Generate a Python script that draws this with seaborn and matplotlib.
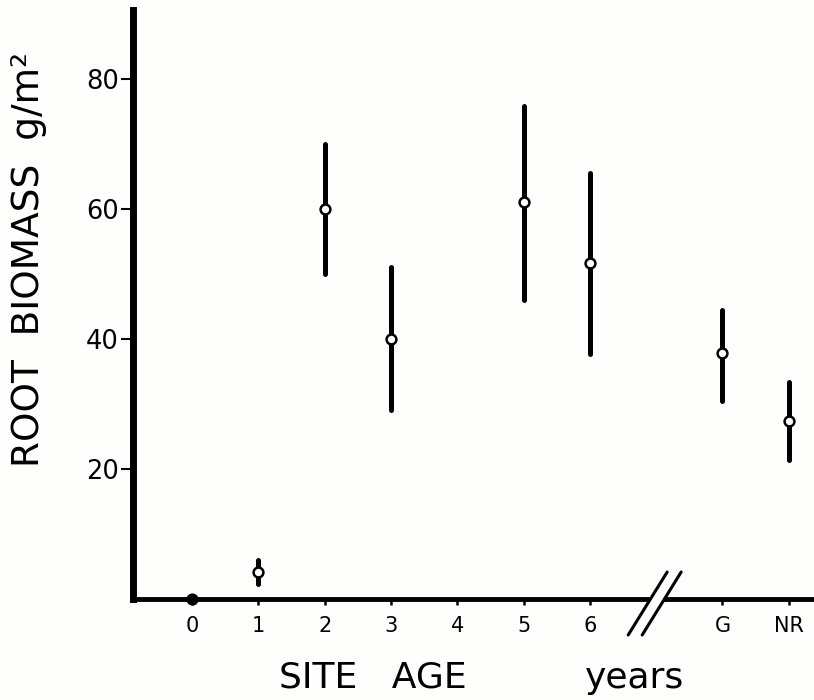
import numpy as np
import pandas as pd
import matplotlib
matplotlib.use("Agg")
import matplotlib.pyplot as plt
from matplotlib.lines import Line2D
import seaborn as sns

# =========================================
# DATOS
# =========================================
sitios = ["0", "1", "2", "3", "5", "6", "G", "NR"]
biomasa = [0.0, 4.2, 60.0, 40.0, 61.0, 51.7, 37.8, 27.4]
error_inf = [0.0, 2.3, 50.0, 29.0, 46.0, 37.7, 30.5, 21.4]
error_sup = [0.0, 6.0, 70.0, 51.0, 75.8, 65.5, 44.4, 33.4]
etiquetas_x = ["0", "1", "2", "3", "4", "5", "6", "G", "NR"]
ticks_y = [20, 40, 60, 80]

# edades numericas 0..6, luego corte (//) y despues G, NR
posiciones = {str(k): k for k in range(7)}
posiciones["G"] = 8
posiciones["NR"] = 9
corte_x = 7

df = pd.DataFrame({
    "sitio": sitios,
    "biomasa": biomasa,
    "inf": error_inf,
    "sup": error_sup,
})
df["x"] = df["sitio"].map(posiciones)

sns.set_style("ticks")
plt.rcParams["font.family"] = ["DejaVu Sans"]
plt.rcParams["text.color"] = "black"
plt.rcParams["axes.labelcolor"] = "black"
plt.rcParams["xtick.color"] = "black"
plt.rcParams["ytick.color"] = "black"

fondo = "#fefefc"
fig = plt.figure(figsize=(8.14, 7.0), dpi=100)
fig.patch.set_facecolor(fondo)
ax = fig.add_axes([133 / 814, 101 / 700, 681 / 814, 589 / 700])
ax.set_facecolor(fondo)

# barras de error
con_barra = df[df["sitio"] != "0"]
ax.vlines(con_barra["x"], con_barra["inf"], con_barra["sup"],
          color="black", linewidth=3.6, capstyle="round", zorder=2)

# puntos abiertos
sns.scatterplot(data=con_barra, x="x", y="biomasa", ax=ax, marker="o", s=50,
                color="white", edgecolor="black", linewidth=1.8, zorder=3,
                legend=False)
# sitio 0: punto relleno sobre el eje
sns.scatterplot(data=df[df["sitio"] == "0"], x="x", y="biomasa", ax=ax,
                marker="o", s=60, color="black", edgecolor="black",
                linewidth=1, zorder=4, clip_on=False, legend=False)

ax.set_xlim(-0.89, 9.38)
ax.set_ylim(0, 90.6)

ax.set_xticks([posiciones[e] for e in etiquetas_x])
ax.set_xticklabels(etiquetas_x)
ax.set_yticks(ticks_y)
ax.set_yticklabels([str(v) for v in ticks_y])

ax.tick_params(axis="x", direction="out", length=4, width=1.8, pad=8,
               labelsize=15)
ax.tick_params(axis="y", direction="out", length=9, width=1.5, pad=1,
               labelsize=18.5)

sns.despine(ax=ax)
ax.spines["left"].set_linewidth(5)
ax.spines["bottom"].set_linewidth(3.5)
ax.spines["left"].set_color("black")
ax.spines["bottom"].set_color("black")

# etiquetas de ejes
ax.set_ylabel("ROOT  BIOMASS  g/m²", fontsize=27)
ax.yaxis.set_label_coords(-0.152, 0.576)
ax.yaxis.label.set_va("center")

ax.set_xlabel("SITE   AGE", fontsize=26)
ax.xaxis.set_label_coords(0.3525, -0.151)
ax.xaxis.label.set_va("baseline")
ax.text(0.737, -0.151, "years", transform=ax.transAxes, fontsize=26,
        ha="center", va="baseline")

# marca de corte del eje (//)
xc, yc = ax.transData.transform((corte_x, 0))
blanco = Line2D([xc - 21, xc + 18], [yc - 36, yc + 27], color=fondo,
                linewidth=9, transform=None, zorder=5)
fig.add_artist(blanco)
for dx in (-28, -14):
    fig.add_artist(Line2D([xc + dx, xc + dx + 39], [yc - 36, yc + 27],
                          color="black", linewidth=2.2, transform=None,
                          zorder=6, solid_capstyle="round"))

plt.savefig("out.png", dpi=100, facecolor=fig.get_facecolor())
plt.close()
